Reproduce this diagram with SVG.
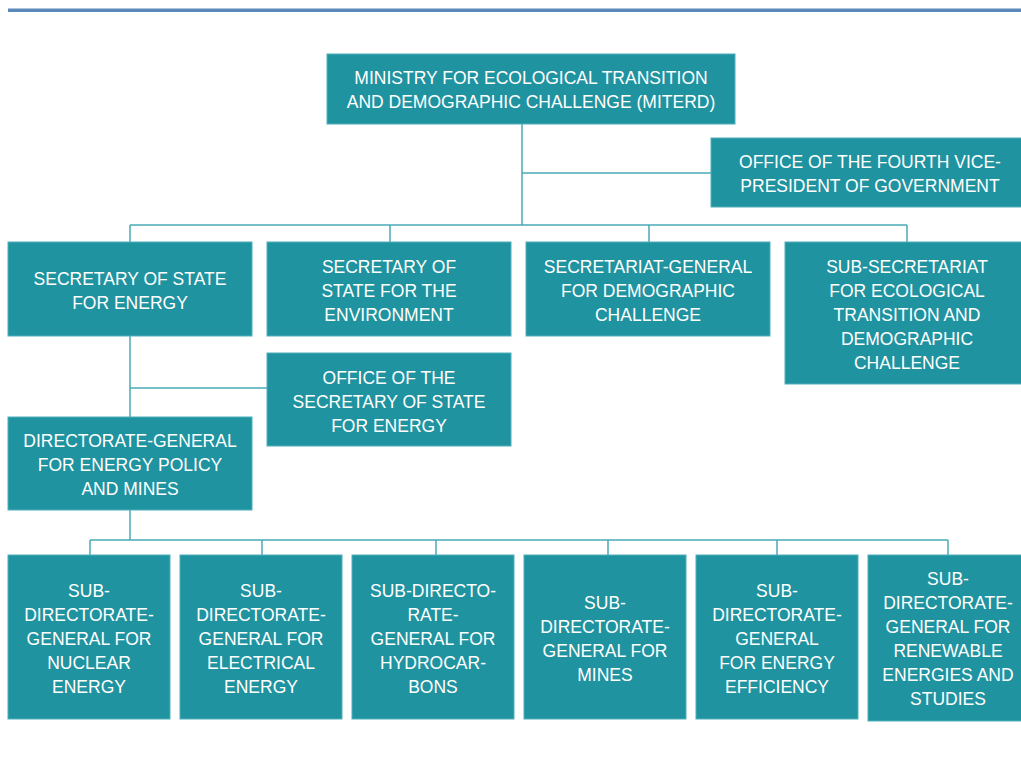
<svg xmlns="http://www.w3.org/2000/svg" width="1021" height="774" viewBox="0 0 1021 774">
<style>
.n rect{fill:#2093a0;stroke:#4fb0bb;stroke-width:1}
.n text{fill:#ffffff;font-family:"Liberation Sans",Arial,sans-serif;font-size:17.5px;text-anchor:middle}
.c{stroke:#4aa9b6;stroke-width:1.5;fill:none}
</style>
<rect x="0" y="0" width="1021" height="774" fill="#ffffff"/>
<rect x="8" y="8.5" width="1013" height="3.5" fill="#5b88ba"/>
<g id="connectors" class="c">
<path d="M522,124V225M522,173H711M130,225H907M130,225V242M390,225V242M649,225V242M907,225V242"/>
<path d="M130,336V417M130,388H267"/>
<path d="M130,510V540M90,540H948M90,540V555M262,540V555M436,540V555M608,540V555M777,540V555M948,540V555"/>
</g>
<g id="miterd" class="n"><rect x="327" y="54" width="408" height="70"/><text x="531" y="84">MINISTRY FOR ECOLOGICAL TRANSITION</text><text x="531" y="108">AND DEMOGRAPHIC CHALLENGE (MITERD)</text></g>
<g id="office-vp" class="n"><rect x="711" y="138" width="315" height="69"/><text x="870" y="168">OFFICE OF THE FOURTH VICE-</text><text x="870" y="192">PRESIDENT OF GOVERNMENT</text></g>
<g id="ses-energy" class="n"><rect x="8" y="242" width="244" height="94"/><text x="130" y="285">SECRETARY OF STATE</text><text x="130" y="309">FOR ENERGY</text></g>
<g id="ses-env" class="n"><rect x="267" y="242" width="244" height="94"/><text x="389" y="273">SECRETARY OF</text><text x="389" y="297">STATE FOR THE</text><text x="389" y="321">ENVIRONMENT</text></g>
<g id="sg-demo" class="n"><rect x="526" y="242" width="244" height="94"/><text x="648" y="273">SECRETARIAT-GENERAL</text><text x="648" y="297">FOR DEMOGRAPHIC</text><text x="648" y="321">CHALLENGE</text></g>
<g id="subsec" class="n"><rect x="785" y="242" width="241" height="142"/><text x="907" y="273">SUB-SECRETARIAT</text><text x="907" y="297">FOR ECOLOGICAL</text><text x="907" y="321">TRANSITION AND</text><text x="907" y="345">DEMOGRAPHIC</text><text x="907" y="369">CHALLENGE</text></g>
<g id="office-ses" class="n"><rect x="267" y="353" width="244" height="93"/><text x="389" y="384">OFFICE OF THE</text><text x="389" y="408">SECRETARY OF STATE</text><text x="389" y="432">FOR ENERGY</text></g>
<g id="dg-epm" class="n"><rect x="8" y="417" width="244" height="93"/><text x="130" y="447">DIRECTORATE-GENERAL</text><text x="130" y="471">FOR ENERGY POLICY</text><text x="130" y="495">AND MINES</text></g>
<g id="sdg-nuclear" class="n"><rect x="8" y="555" width="162" height="164"/><text x="89" y="597">SUB-</text><text x="89" y="621">DIRECTORATE-</text><text x="89" y="645">GENERAL FOR</text><text x="89" y="669">NUCLEAR</text><text x="89" y="693">ENERGY</text></g>
<g id="sdg-electrical" class="n"><rect x="180" y="555" width="162" height="164"/><text x="261" y="597">SUB-</text><text x="261" y="621">DIRECTORATE-</text><text x="261" y="645">GENERAL FOR</text><text x="261" y="669">ELECTRICAL</text><text x="261" y="693">ENERGY</text></g>
<g id="sdg-hydrocarbons" class="n"><rect x="352" y="555" width="162" height="164"/><text x="433" y="597">SUB-DIRECTO-</text><text x="433" y="621">RATE-</text><text x="433" y="645">GENERAL FOR</text><text x="433" y="669">HYDROCAR-</text><text x="433" y="693">BONS</text></g>
<g id="sdg-mines" class="n"><rect x="524" y="555" width="162" height="164"/><text x="605" y="609">SUB-</text><text x="605" y="633">DIRECTORATE-</text><text x="605" y="657">GENERAL FOR</text><text x="605" y="681">MINES</text></g>
<g id="sdg-efficiency" class="n"><rect x="696" y="555" width="162" height="164"/><text x="777" y="597">SUB-</text><text x="777" y="621">DIRECTORATE-</text><text x="777" y="645">GENERAL</text><text x="777" y="669">FOR ENERGY</text><text x="777" y="693">EFFICIENCY</text></g>
<g id="sdg-renewable" class="n"><rect x="868" y="555" width="162" height="166"/><text x="948" y="585">SUB-</text><text x="948" y="609">DIRECTORATE-</text><text x="948" y="633">GENERAL FOR</text><text x="948" y="657">RENEWABLE</text><text x="948" y="681">ENERGIES AND</text><text x="948" y="705">STUDIES</text></g>
</svg>
